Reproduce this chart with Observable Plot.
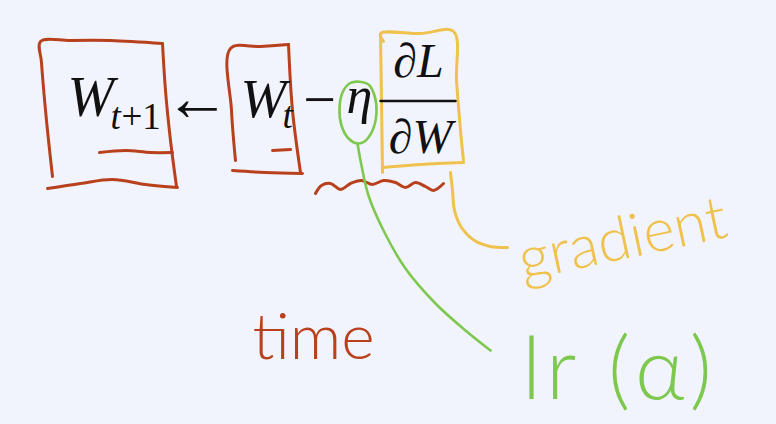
<!DOCTYPE html>
<html><head><meta charset="utf-8">
<script src="https://cdn.jsdelivr.net/npm/d3@7"></script>
<script src="https://cdn.jsdelivr.net/npm/@observablehq/plot@0.6"></script>
<style>
html,body{margin:0;padding:0;background:#f2f4fd;}
</style></head><body><div id="chart"></div>
<script>
// ---- formula text (math, serif) ----
const italicText = ["W", "t", "W", "t", "η"];
const italicX    = [67, 110, 240, 282, 346];
const italicY    = [115, 128, 116, 127, 112];
const italicSize = [56, 37, 55, 37, 52];

const romanText = ["+1"];
const romanX    = [121];
const romanY    = [128];

const arrowText = ["←"];
const arrowX    = [197];
const arrowY    = [98];

const minusText = ["−"];
const minusX    = [319];
const minusY    = [100];

const fracText = ["∂L", "∂W"];
const fracX    = [418, 420];
const fracY    = [76, 152];

const fractionBar = [[380, 100.5], [455, 100.5]];

// ---- hand-drawn strokes (x, y) ----
const redStrokes = [
  [[52,176],[46,120],[41,62],[40,41],[70,40],[110,40],[162,43]],
  [[162,43],[165,90],[170,140],[176,186]],
  [[47,188],[80,183],[112,179],[145,184],[177,187]],
  [[99,152],[125,150],[150,152],[172,152]],
  [[235,160],[231,110],[230,48],[260,46],[288,44]],
  [[288,44],[292,110],[300,172]],
  [[232,170],[265,172],[302,173]],
  [[272,150],[290,149]],
  [[315,193],[321,185],[330,183],[340,189],[350,183],[361,180],[372,184],[383,180],[395,182],[405,187],[415,182],[425,186],[433,190],[443,183]]
];
const yellowStrokes = [
  [[383,41],[380,33],[420,33],[453,31],[456,80],[460,130],[463,160]],
  [[380,34],[381,100],[382,172]],
  [[382,167],[420,164],[463,162]],
  [[450,172],[452,190],[454,210],[461,227],[474,240],[490,246],[507,247]]
];
const greenStrokes = [
  [[357,81],[368,84],[374,95],[376,112],[372,130],[364,141],[357,143],[348,138],[341,125],[339,108],[342,92],[349,83],[357,81]],
  [[357,143],[361,165],[368,195],[383,230],[405,268],[435,303],[465,330],[490,350]]
];

// ---- handwritten labels ----
const noteText   = ["time", "gradient", "lr (α)"];
const noteX      = [313, 626, 619];
const noteY      = [358, 258, 398];
const noteColor  = ["#b8401c", "#efc24e", "#7ec850"];

const toRows = (strokes, tag) => strokes.flatMap((s, i) => s.map(([x, y]) => ({x, y, id: tag + i})));

const serif = "Liberation Serif, Times New Roman, DejaVu Serif, serif";
const hand = "Lato, Noto Sans, sans-serif";

const chart = Plot.plot({
  width: 776, height: 424,
  margin: 0,
  x: {domain: [0, 776], range: [0, 776], axis: null},
  y: {domain: [0, 424], range: [0, 424], axis: null},
  style: {background: "#f2f4fd", overflow: "visible"},
  marks: [
    Plot.line(toRows(redStrokes, "r"), {x: "x", y: "y", z: "id", stroke: "#b8401c", strokeWidth: 3, curve: "catmull-rom", strokeLinecap: "round"}),
    Plot.line(toRows(yellowStrokes, "y"), {x: "x", y: "y", z: "id", stroke: "#efc24e", strokeWidth: 3, curve: "catmull-rom", strokeLinecap: "round"}),
    Plot.line(toRows(greenStrokes, "g"), {x: "x", y: "y", z: "id", stroke: "#7ec850", strokeWidth: 2.6, curve: "catmull-rom", strokeLinecap: "round"}),
    Plot.line(fractionBar, {x: d => d[0], y: d => d[1], stroke: "#111", strokeWidth: 2.5}),
    Plot.text(italicText, {x: (d, i) => italicX[i], y: (d, i) => italicY[i], text: d => d, fontSize: (d, i) => italicSize[i], fontFamily: serif, fontStyle: "italic", textAnchor: "start", lineAnchor: "bottom", fill: "#111"}),
    Plot.text(romanText, {x: (d, i) => romanX[i], y: (d, i) => romanY[i], text: d => d, fontSize: 37, fontFamily: serif, textAnchor: "start", lineAnchor: "bottom", fill: "#111"}),
    Plot.text(arrowText, {x: (d, i) => arrowX[i], y: (d, i) => arrowY[i], text: d => d, fontSize: 66, fontFamily: serif, textAnchor: "middle", lineAnchor: "middle", fill: "#111"}),
    Plot.text(minusText, {x: (d, i) => minusX[i], y: (d, i) => minusY[i], text: d => d, fontSize: 58, fontFamily: serif, textAnchor: "middle", lineAnchor: "middle", fill: "#111"}),
    Plot.text(fracText, {x: (d, i) => fracX[i], y: (d, i) => fracY[i], text: d => d, fontSize: 48, fontFamily: serif, fontStyle: "italic", textAnchor: "middle", lineAnchor: "bottom", fill: "#111"}),
    Plot.text([noteText[0]], {x: noteX[0], y: noteY[0], text: d => d, fontSize: 64, fontFamily: hand, fontWeight: 300, fill: noteColor[0], textAnchor: "middle", lineAnchor: "bottom"}),
    Plot.text([noteText[1]], {x: noteX[1], y: noteY[1], text: d => d, fontSize: 60, fontFamily: hand, fontWeight: 300, fill: noteColor[1], textAnchor: "middle", lineAnchor: "bottom", rotate: -12}),
    Plot.text([noteText[2]], {x: noteX[2], y: noteY[2], text: d => d, fontSize: 86, fontFamily: hand, fontWeight: 300, fill: noteColor[2], textAnchor: "middle", lineAnchor: "bottom"})
  ]
});
d3.select(chart).selectAll("text").filter(function() { return this.textContent === "lr (α)"; }).style("letter-spacing", "5px");
document.getElementById("chart").appendChild(chart);
</script></body></html>
